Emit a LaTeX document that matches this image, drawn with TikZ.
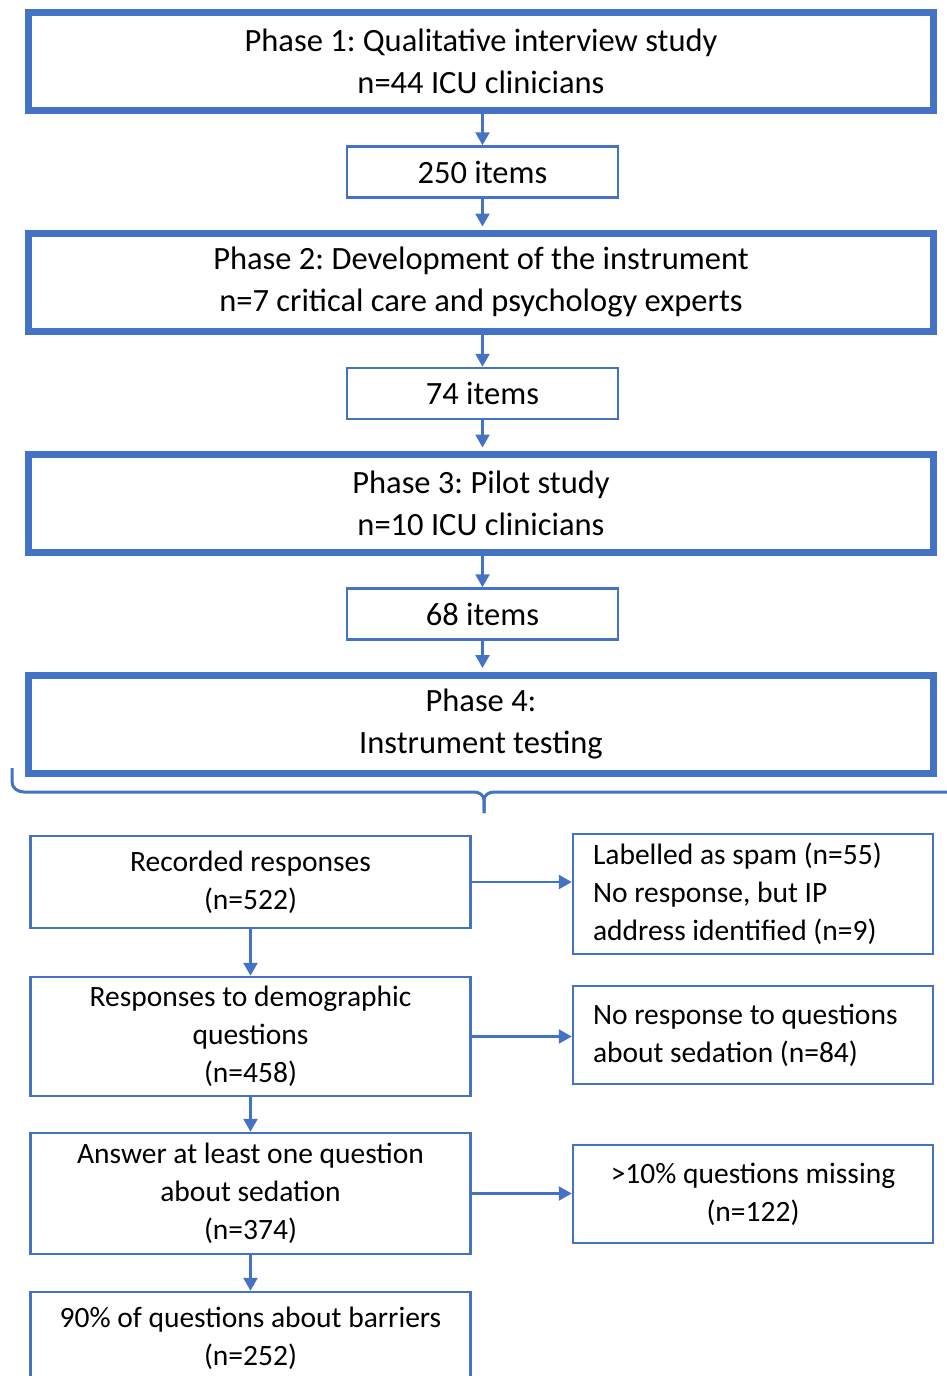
\documentclass[tikz,border=0pt]{standalone}
\usepackage{fontspec}
\setmainfont{Carlito}
\usetikzlibrary{arrows.meta}
\definecolor{oblue}{HTML}{4472C4}
\frenchspacing
\tikzset{
  phasebox/.style={draw=oblue, line width=7pt, minimum width=905pt, minimum height=98pt, inner sep=0pt, align=center, font=\fontsize{32.5}{42}\selectfont},
  itembox/.style={draw=oblue, line width=2.5pt, minimum width=271pt, minimum height=51pt, inner sep=0pt, align=center, font=\fontsize{32.5}{42}\selectfont},
  flowbox/.style={draw=oblue, line width=2.5pt, minimum width=440pt, inner sep=0pt, align=center, font=\fontsize{29.5}{38}\selectfont},
  sidebox/.style={draw=oblue, line width=2.5pt, minimum width=360pt, inner sep=0pt, font=\fontsize{29.5}{38}\selectfont},
  arr/.style={draw=oblue, line width=2.5pt, -{Triangle[width=14pt,length=13pt]}},
}
\begin{document}
\begin{tikzpicture}[x=1pt,y=-1pt]
\useasboundingbox (0,0) rectangle (947,1376);
\clip (0,0) rectangle (947,1376);
\fill[white] (0,0) rectangle (947,1376);
% phases
\node[phasebox] (p1) at (481,61) {Phase 1: Qualitative interview study\\n=44 ICU clinicians};
\node[itembox] (i1) at (482.5,172) {250 items};
\node[phasebox] (p2) at (481,282.5) {Phase 2: Development of the instrument\\n=7 critical care and psychology experts};
\node[itembox] (i2) at (482.5,393.5) {74 items};
\node[phasebox] (p3) at (481,503.5) {Phase 3: Pilot study\\n=10 ICU clinicians};
\node[itembox] (i3) at (482.5,614) {68 items};
\node[phasebox] (p4) at (481,724) {Phase 4:\\Instrument testing};
\draw[arr] (p1.south -| i1.north) -- (i1.north);
\draw[arr, shorten >=3.5pt] (i1.south) -- (i1.south |- p2.north);
\draw[arr] (p2.south -| i2.north) -- (i2.north);
\draw[arr, shorten >=3.5pt] (i2.south) -- (i2.south |- p3.north);
\draw[arr] (p3.south -| i3.north) -- (i3.north);
\draw[arr, shorten >=3.5pt] (i3.south) -- (i3.south |- p4.north);
% brace
\draw[oblue, line width=3pt] (12,768) -- (12,782) to[out=-90,in=180] (24,792) -- (474,792) to[out=0,in=90] (484,800) -- (484,813);
\draw[oblue, line width=3pt] (484,813) -- (484,800) to[out=90,in=180] (494,792) -- (960,792);
% lower flow
\node[flowbox, minimum height=92pt] (r1) at (250.5,882) {Recorded responses\\(n=522)};
\node[flowbox, minimum height=119pt] (r2) at (250.5,1036.5) {Responses to demographic\\questions\\(n=458)};
\node[flowbox, minimum height=121pt] (r3) at (250.5,1193.5) {Answer at least one question\\about sedation\\(n=374)};
\node[flowbox, minimum height=92pt] (r4) at (250.5,1338) {90\% of questions about barriers\\(n=252)};
\node[sidebox, minimum height=120pt, text width=320pt, align=flush left] (s1) at (753,894) {Labelled as spam (n=55)\\No response, but IP\\address identified (n=9)};
\node[sidebox, minimum height=98pt, text width=320pt, align=flush left] (s2) at (753,1035) {No response to questions\\about sedation (n=84)};
\node[sidebox, minimum height=98pt, align=center] (s3) at (753,1194) {>10\% questions missing\\(n=122)};
\draw[arr] (r1.south) -- (r2.north);
\draw[arr] (r2.south) -- (r3.north);
\draw[arr] (r3.south) -- (r4.north);
\draw[arr] (r1.east) -- (r1.east -| s1.west);
\draw[arr] (r2.east) -- (r2.east -| s2.west);
\draw[arr] (r3.east) -- (r3.east -| s3.west);
\end{tikzpicture}
\end{document}
